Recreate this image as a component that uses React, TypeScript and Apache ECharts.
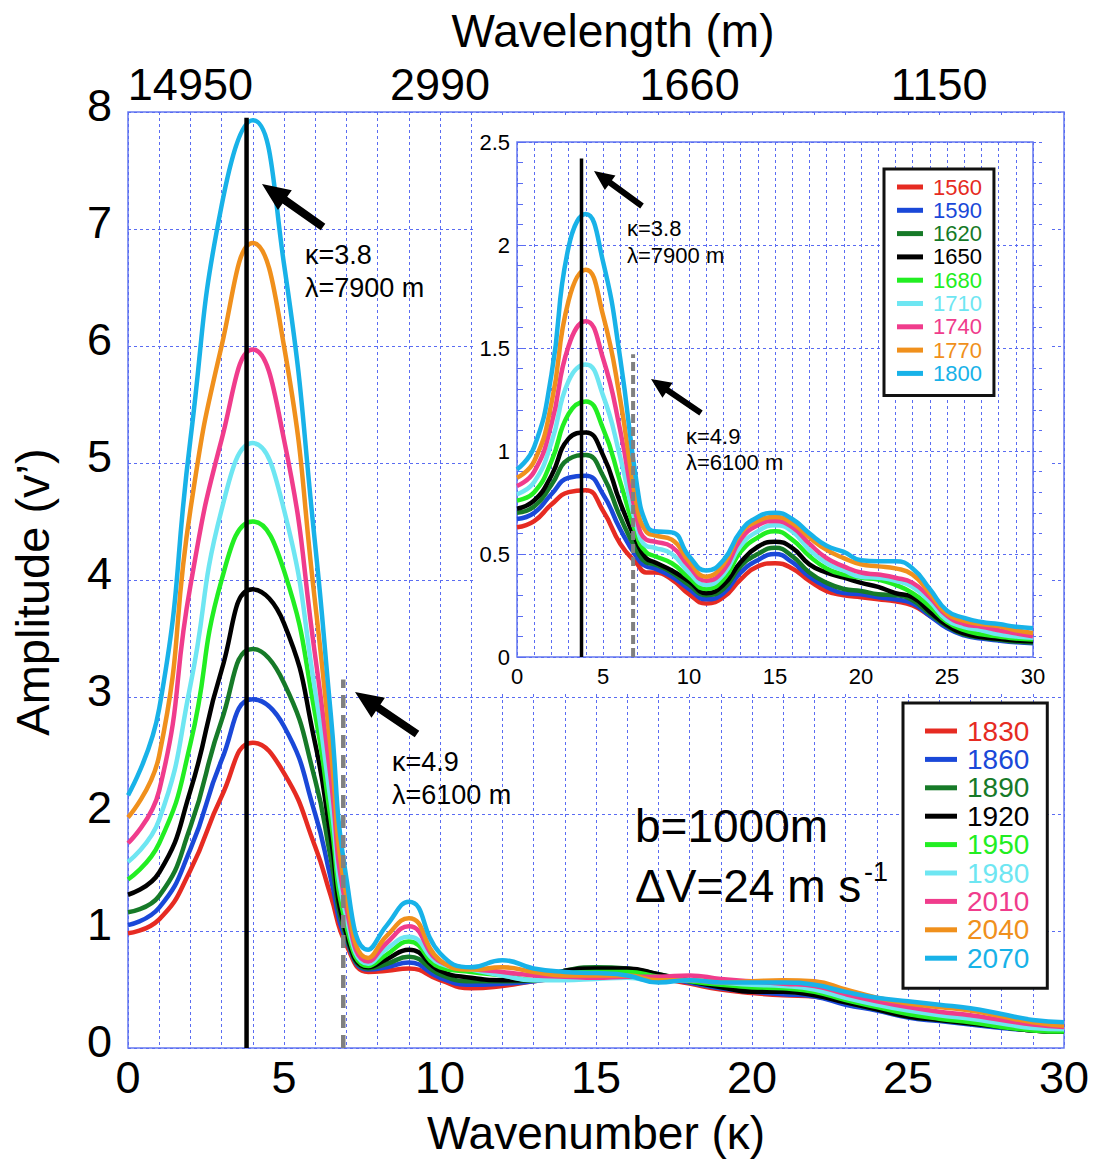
import React, { useEffect, useRef } from 'react';
import * as echarts from 'echarts';

// ---------- data ----------
const MAIN_K = [0, 1, 2, 3, 4, 5, 6, 6.5, 7, 7.7, 8.3, 9, 10, 11, 12, 13, 14, 15, 16, 17, 18, 19, 20, 21, 22, 23, 24, 25, 26, 27, 28, 29, 30];
const MAIN_NAMES = ['1830', '1860', '1890', '1920', '1950', '1980', '2010', '2040', '2070'];
const AMP_1830 = [0.98, 1.10, 1.52, 2.15, 2.61, 2.35, 1.72, 1.30, 0.88, 0.65, 0.66, 0.68, 0.58, 0.51, 0.53, 0.57, 0.60, 0.62, 0.64, 0.60, 0.55, 0.50, 0.47, 0.45, 0.44, 0.38, 0.33, 0.27, 0.24, 0.21, 0.18, 0.15, 0.14];
const AMP_1860 = [1.05, 1.20, 1.70, 2.46, 2.98, 2.75, 2.00, 1.45, 0.92, 0.67, 0.69, 0.73, 0.60, 0.54, 0.55, 0.57, 0.61, 0.64, 0.65, 0.61, 0.56, 0.51, 0.48, 0.46, 0.44, 0.37, 0.32, 0.26, 0.23, 0.20, 0.17, 0.15, 0.14];
const AMP_1890 = [1.16, 1.30, 1.89, 2.80, 3.41, 3.12, 2.29, 1.62, 0.95, 0.68, 0.72, 0.78, 0.63, 0.57, 0.57, 0.58, 0.66, 0.69, 0.68, 0.63, 0.58, 0.53, 0.49, 0.48, 0.46, 0.39, 0.33, 0.27, 0.24, 0.21, 0.18, 0.15, 0.14];
const AMP_1920 = [1.31, 1.50, 2.20, 3.23, 3.92, 3.63, 2.60, 1.80, 0.98, 0.69, 0.76, 0.84, 0.66, 0.60, 0.58, 0.58, 0.66, 0.68, 0.68, 0.63, 0.57, 0.52, 0.48, 0.48, 0.45, 0.39, 0.33, 0.27, 0.24, 0.21, 0.18, 0.15, 0.14];
const AMP_1950 = [1.44, 1.75, 2.60, 4.00, 4.50, 4.08, 2.85, 1.95, 1.04, 0.70, 0.80, 0.91, 0.69, 0.65, 0.62, 0.58, 0.64, 0.65, 0.65, 0.61, 0.57, 0.54, 0.52, 0.51, 0.48, 0.41, 0.35, 0.29, 0.25, 0.22, 0.18, 0.15, 0.14];
const AMP_1980 = [1.59, 1.95, 3.10, 4.60, 5.17, 4.60, 3.05, 2.10, 1.12, 0.72, 0.85, 0.95, 0.72, 0.67, 0.62, 0.58, 0.58, 0.59, 0.60, 0.57, 0.58, 0.56, 0.54, 0.53, 0.50, 0.43, 0.37, 0.32, 0.28, 0.25, 0.21, 0.17, 0.16];
const AMP_2010 = [1.75, 2.20, 3.95, 5.20, 5.97, 5.20, 3.35, 2.30, 1.20, 0.74, 0.90, 1.04, 0.74, 0.68, 0.65, 0.62, 0.61, 0.60, 0.61, 0.61, 0.62, 0.59, 0.57, 0.55, 0.53, 0.46, 0.40, 0.35, 0.31, 0.28, 0.24, 0.20, 0.18];
const AMP_2040 = [1.97, 2.50, 4.60, 6.00, 6.88, 6.00, 3.80, 2.55, 1.30, 0.77, 0.96, 1.11, 0.75, 0.67, 0.69, 0.65, 0.62, 0.62, 0.62, 0.58, 0.58, 0.56, 0.57, 0.58, 0.57, 0.50, 0.43, 0.38, 0.35, 0.32, 0.27, 0.22, 0.19];
const AMP_2070 = [2.16, 2.90, 5.20, 7.20, 7.93, 6.70, 4.30, 2.85, 1.45, 0.84, 1.05, 1.25, 0.81, 0.69, 0.75, 0.68, 0.65, 0.64, 0.62, 0.56, 0.58, 0.56, 0.56, 0.56, 0.54, 0.48, 0.43, 0.40, 0.37, 0.34, 0.29, 0.24, 0.22];

const INSET_K = [0, 1, 2, 3, 4, 5, 6, 7, 7.5, 8, 9, 10, 11, 12, 13, 14, 15, 16, 17, 18, 19, 20, 21, 22, 23, 24, 25, 26, 27, 28, 29, 30];
const INSET_NAMES = ['1560', '1590', '1620', '1650', '1680', '1710', '1740', '1770', '1800'];
const AMP_1560 = [0.63, 0.66, 0.74, 0.80, 0.81, 0.71, 0.55, 0.45, 0.41, 0.41, 0.376, 0.305, 0.26, 0.29, 0.376, 0.44, 0.455, 0.43, 0.37, 0.32, 0.30, 0.29, 0.28, 0.27, 0.25, 0.20, 0.15, 0.11, 0.094, 0.085, 0.076, 0.07];
const AMP_1590 = [0.67, 0.70, 0.79, 0.87, 0.88, 0.79, 0.62, 0.48, 0.44, 0.43, 0.39, 0.33, 0.28, 0.31, 0.41, 0.47, 0.50, 0.46, 0.39, 0.34, 0.31, 0.305, 0.29, 0.28, 0.26, 0.20, 0.14, 0.105, 0.09, 0.08, 0.072, 0.067];
const AMP_1620 = [0.70, 0.73, 0.835, 0.96, 0.98, 0.88, 0.68, 0.51, 0.46, 0.45, 0.41, 0.35, 0.30, 0.33, 0.44, 0.50, 0.53, 0.49, 0.41, 0.36, 0.33, 0.32, 0.305, 0.30, 0.275, 0.21, 0.15, 0.11, 0.095, 0.085, 0.075, 0.07];
const AMP_1650 = [0.72, 0.76, 0.88, 1.06, 1.09, 0.98, 0.75, 0.55, 0.48, 0.46, 0.42, 0.367, 0.31, 0.35, 0.46, 0.535, 0.56, 0.53, 0.45, 0.41, 0.385, 0.36, 0.34, 0.31, 0.29, 0.22, 0.155, 0.115, 0.097, 0.088, 0.08, 0.076];
const AMP_1680 = [0.76, 0.80, 0.95, 1.18, 1.24, 1.11, 0.85, 0.58, 0.51, 0.49, 0.455, 0.385, 0.33, 0.376, 0.51, 0.58, 0.61, 0.57, 0.49, 0.43, 0.40, 0.385, 0.376, 0.35, 0.31, 0.245, 0.17, 0.13, 0.11, 0.10, 0.09, 0.085];
const AMP_1710 = [0.79, 0.85, 1.04, 1.34, 1.42, 1.27, 0.97, 0.62, 0.54, 0.53, 0.50, 0.41, 0.35, 0.40, 0.54, 0.61, 0.64, 0.61, 0.52, 0.455, 0.42, 0.39, 0.385, 0.37, 0.34, 0.27, 0.18, 0.145, 0.13, 0.11, 0.10, 0.094];
const AMP_1740 = [0.83, 0.90, 1.13, 1.51, 1.63, 1.45, 1.10, 0.66, 0.57, 0.56, 0.535, 0.44, 0.37, 0.42, 0.57, 0.64, 0.66, 0.63, 0.55, 0.48, 0.44, 0.41, 0.40, 0.385, 0.36, 0.29, 0.20, 0.16, 0.147, 0.13, 0.115, 0.10];
const AMP_1770 = [0.87, 0.95, 1.23, 1.73, 1.88, 1.66, 1.25, 0.72, 0.61, 0.59, 0.57, 0.465, 0.39, 0.45, 0.60, 0.66, 0.68, 0.65, 0.58, 0.52, 0.48, 0.45, 0.44, 0.43, 0.40, 0.31, 0.21, 0.175, 0.16, 0.15, 0.13, 0.117];
const AMP_1800 = [0.91, 1.02, 1.37, 1.99, 2.15, 1.92, 1.45, 0.82, 0.65, 0.61, 0.605, 0.49, 0.42, 0.47, 0.61, 0.68, 0.70, 0.67, 0.60, 0.54, 0.51, 0.47, 0.465, 0.465, 0.43, 0.33, 0.225, 0.19, 0.17, 0.16, 0.147, 0.14];

const TOP_TICK_K = [2, 10, 18, 26];
const TOP_TICK_LABELS = ['14950', '2990', '1660', '1150'];

const MAIN_PEAK_K = 3.8;
const MAIN_PEAK_TOP = 7.95;
const MAIN_CUT_K = 6.9;
const MAIN_CUT_TOP = 3.15;
const INSET_PEAK_K = 3.75;
const INSET_PEAK_TOP = 2.42;
const INSET_CUT_K = 6.75;
const INSET_CUT_TOP = 1.47;

const COLORS = ['#e62b22', '#1a48d8', '#167a28', '#000000', '#22ee22', '#6ee6f2', '#f03c8c', '#f0901c', '#18b2e8'];

const MAIN_SERIES = [AMP_1830, AMP_1860, AMP_1890, AMP_1920, AMP_1950, AMP_1980, AMP_2010, AMP_2040, AMP_2070];
const INSET_SERIES = [AMP_1560, AMP_1590, AMP_1620, AMP_1650, AMP_1680, AMP_1710, AMP_1740, AMP_1770, AMP_1800];

// ---------- styling ----------
const FONT = "'Liberation Sans', Arial, Helvetica, sans-serif";
const GRID_BLUE = '#5a6cf2';
const FRAME_BLUE = '#6478f0';
const DASH = [3, 3];

function arrow(tip: number[], tail: number[], shaftW: number, headL: number, headW: number) {
  const dx = tip[0] - tail[0];
  const dy = tip[1] - tail[1];
  const len = Math.sqrt(dx * dx + dy * dy);
  const ux = dx / len, uy = dy / len;
  const px = -uy, py = ux;
  const bx = tip[0] - ux * headL, by = tip[1] - uy * headL;
  const pts = [
    [tail[0] + px * shaftW / 2, tail[1] + py * shaftW / 2],
    [bx + px * shaftW / 2, by + py * shaftW / 2],
    [bx + px * headW / 2, by + py * headW / 2],
    [tip[0], tip[1]],
    [bx - px * headW / 2, by - py * headW / 2],
    [bx - px * shaftW / 2, by - py * shaftW / 2],
    [tail[0] - px * shaftW / 2, tail[1] - py * shaftW / 2],
  ];
  return { type: 'polygon', shape: { points: pts }, style: { fill: '#000' }, z: 10, silent: true };
}

function label(text: string, x: number, y: number, size: number) {
  return {
    type: 'text', x, y, z: 10, silent: true,
    style: { text, fontSize: size, fontFamily: FONT, fill: '#000', align: 'left', verticalAlign: 'middle' },
  };
}

export default function App() {
  const ref = useRef<HTMLDivElement>(null);

  useEffect(() => {
    document.body.style.margin = '0';
    document.body.style.overflow = 'hidden';
    if (!ref.current) return;
    const chart = echarts.init(ref.current, undefined, { renderer: 'svg' });

    const mainSeries = MAIN_SERIES.map((vals, i) => ({
      name: MAIN_NAMES[i],
      type: 'line',
      xAxisIndex: 0,
      yAxisIndex: 0,
      data: MAIN_K.map((k, j) => [k, vals[j]]),
      symbol: 'none',
      smooth: 0.5,
      lineStyle: { width: 4.5, color: COLORS[i] },
      itemStyle: { color: COLORS[i] },
      z: 2,
      silent: true,
    }));

    const insetSeries = INSET_SERIES.map((vals, i) => ({
      name: INSET_NAMES[i],
      type: 'line',
      xAxisIndex: 2,
      yAxisIndex: 1,
      data: INSET_K.map((k, j) => [k, vals[j]]),
      symbol: 'none',
      smooth: 0.5,
      lineStyle: { width: 4.5, color: COLORS[i] },
      itemStyle: { color: COLORS[i] },
      z: 5,
      silent: true,
    }));

    const refLines = [
      { type: 'line', xAxisIndex: 0, yAxisIndex: 0, data: [[MAIN_PEAK_K, 0], [MAIN_PEAK_K, MAIN_PEAK_TOP]], symbol: 'none', lineStyle: { color: '#000', width: 4.5 }, z: 3, silent: true },
      { type: 'line', xAxisIndex: 0, yAxisIndex: 0, data: [[MAIN_CUT_K, 0], [MAIN_CUT_K, MAIN_CUT_TOP]], symbol: 'none', lineStyle: { color: '#808080', width: 4.5, type: [13, 7] }, z: 3, silent: true },
      { type: 'line', xAxisIndex: 2, yAxisIndex: 1, data: [[INSET_PEAK_K, 0], [INSET_PEAK_K, INSET_PEAK_TOP]], symbol: 'none', lineStyle: { color: '#000', width: 3.5 }, z: 6, silent: true },
      { type: 'line', xAxisIndex: 2, yAxisIndex: 1, data: [[INSET_CUT_K, 0], [INSET_CUT_K, INSET_CUT_TOP]], symbol: 'none', lineStyle: { color: '#808080', width: 4, type: [9, 4] }, z: 6, silent: true },
    ];

    const splitStyle = { color: GRID_BLUE, type: DASH, width: 1 };
    const legendCommon = {
      orient: 'vertical',
      icon: 'rect',
      selectedMode: false,
      borderColor: '#111',
      borderWidth: 3,
      backgroundColor: '#fff',
      itemStyle: { borderWidth: 0 },
      z: 8,
    };

    const option: any = {
      animation: false,
      backgroundColor: '#fff',
      grid: [
        { left: 128, right: 33, top: 112, bottom: 114, show: true, borderColor: FRAME_BLUE, borderWidth: 1.5, z: 0 },
        { left: 517, right: 64, top: 142, bottom: 505, show: true, borderColor: FRAME_BLUE, borderWidth: 1.5, z: 4 },
      ],
      xAxis: [
        {
          gridIndex: 0, type: 'value', min: 0, max: 30, interval: 5, position: 'bottom',
          axisLine: { show: false }, axisTick: { show: false },
          axisLabel: { fontSize: 45, color: '#000', fontFamily: FONT, margin: 7 },
          splitLine: { show: true, lineStyle: splitStyle },
          minorTick: { show: false, splitNumber: 5 },
          minorSplitLine: { show: true, lineStyle: splitStyle },
          name: 'Wavenumber (κ)', nameLocation: 'middle', nameGap: 62,
          nameTextStyle: { fontSize: 46, color: '#000', fontFamily: FONT },
        },
        {
          gridIndex: 0, type: 'value', min: 0, max: 30, interval: 2, position: 'top',
          axisLine: { show: false }, axisTick: { show: false }, splitLine: { show: false },
          axisLabel: {
            fontSize: 45, color: '#000', fontFamily: FONT, margin: 5,
            formatter: (v: number) => {
              const i = TOP_TICK_K.indexOf(v);
              return i >= 0 ? TOP_TICK_LABELS[i] : '';
            },
          },
          name: 'Wavelength (m)', nameLocation: 'middle', nameGap: 58,
          nameTextStyle: { fontSize: 46, color: '#000', fontFamily: FONT, padding: [0, 0, 0, 34] },
        },
        {
          gridIndex: 1, type: 'value', min: 0, max: 30, interval: 5, position: 'bottom', z: 4,
          axisLine: { show: false }, axisTick: { show: false },
          axisLabel: { fontSize: 22, color: '#000', fontFamily: FONT, margin: 8 },
          splitLine: { show: true, lineStyle: splitStyle },
          minorTick: { show: false, splitNumber: 5 },
          minorSplitLine: { show: true, lineStyle: splitStyle },
        },
      ],
      yAxis: [
        {
          gridIndex: 0, type: 'value', min: 0, max: 8, interval: 1, position: 'left',
          axisLine: { show: false }, axisTick: { show: false },
          axisLabel: { fontSize: 45, color: '#000', fontFamily: FONT, margin: 16, verticalAlign: 'bottom', lineHeight: 14 },
          splitLine: { show: true, lineStyle: splitStyle },
          name: 'Amplitude (v’)', nameLocation: 'middle', nameGap: 72,
          nameTextStyle: { fontSize: 47, color: '#000', fontFamily: FONT, padding: [0, 24, 0, 0] },
        },
        {
          gridIndex: 1, type: 'value', min: 0, max: 2.5, interval: 0.5, position: 'left', z: 4,
          axisLine: { show: false },
          axisTick: { show: true, inside: true, length: 6, lineStyle: { color: GRID_BLUE } },
          minorTick: { show: true, splitNumber: 5, length: 6, lineStyle: { color: GRID_BLUE } },
          axisLabel: { fontSize: 22, color: '#000', fontFamily: FONT, margin: 7 },
          splitLine: { show: true, lineStyle: splitStyle },
        },
        {
          gridIndex: 1, type: 'value', min: 0, max: 2.5, interval: 0.5, position: 'right', z: 4,
          axisLine: { show: false },
          axisTick: { show: true, inside: false, length: 12, lineStyle: { color: GRID_BLUE, type: DASH } },
          minorTick: { show: true, splitNumber: 5, length: 12, lineStyle: { color: GRID_BLUE, type: DASH } },
          axisLabel: { show: false },
          splitLine: { show: false },
        },
      ],
      legend: [
        {
          ...legendCommon,
          data: INSET_NAMES.map((n, i) => ({ name: n, textStyle: { color: COLORS[i] } })),
          left: 884, top: 169,
          itemWidth: 26, itemHeight: 5,
          itemGap: 1.3,
          padding: [7, 12, 11, 13],
          textStyle: { fontSize: 22, fontFamily: FONT, padding: [0, 0, 0, 5] },
        },
        {
          ...legendCommon,
          data: MAIN_NAMES.map((n, i) => ({ name: n, textStyle: { color: COLORS[i] } })),
          left: 903, top: 703,
          itemWidth: 32, itemHeight: 5,
          itemGap: 0.4,
          padding: [14, 18, 16, 22],
          textStyle: { fontSize: 28, fontFamily: FONT, padding: [0, 0, 0, 5] },
        },
      ],
      graphic: [
        { type: 'rect', shape: { x: 474, y: 116, width: 578, height: 578 }, style: { fill: '#fff' }, z: 3, silent: true },
        arrow([262, 184], [323, 227], 8, 28, 24),
        arrow([355, 692], [417, 734], 8, 28, 24),
        arrow([594, 171], [642, 206], 6, 20, 18),
        arrow([651, 379], [701, 413], 6, 20, 18),
        label('κ=3.8', 305, 255, 27),
        label('λ=7900 m', 305, 288, 27),
        label('κ=4.9', 392, 762, 27),
        label('λ=6100 m', 392, 795, 27),
        label('κ=3.8', 627, 228, 22),
        label('λ=7900 m', 627, 255, 22),
        label('κ=4.9', 686, 436, 22),
        label('λ=6100 m', 686, 462, 22),
        label('b=1000m', 635, 826, 46),
        label('ΔV=24 m s', 635, 886, 46),
        label('-1', 864, 872, 27),
      ],
      series: [...mainSeries, ...refLines.slice(0, 2), ...insetSeries, ...refLines.slice(2)],
    };

    chart.setOption(option);
    return () => chart.dispose();
  }, []);

  return <div ref={ref} style={{ width: 1097, height: 1162 }} />;
}
